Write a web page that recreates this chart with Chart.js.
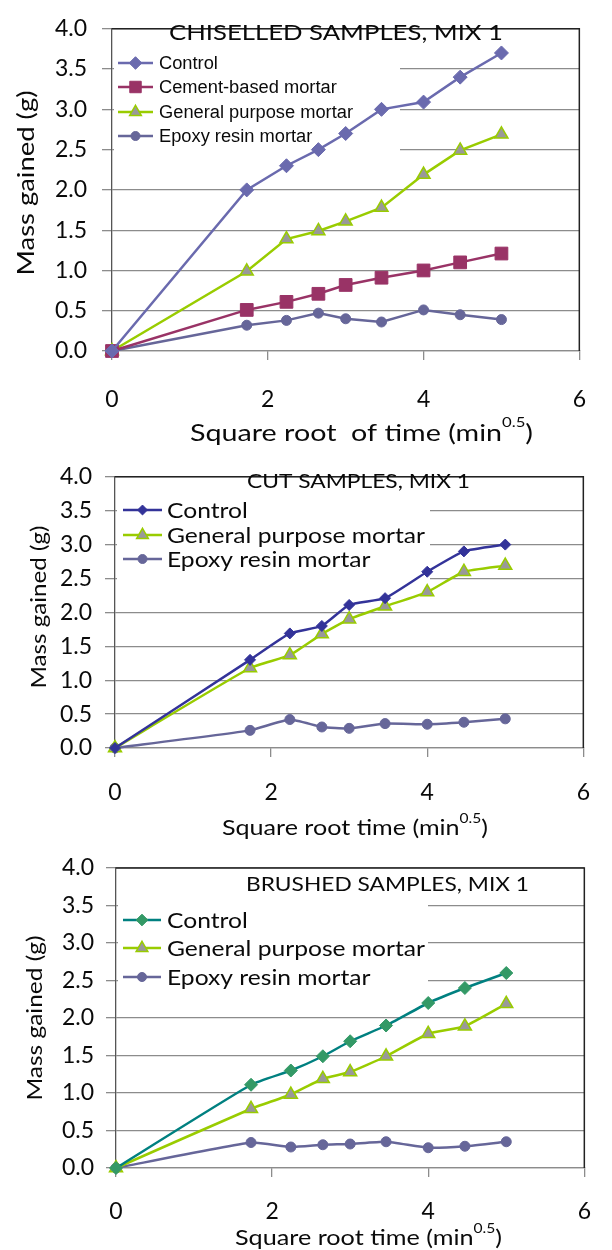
<!DOCTYPE html>
<html>
<head>
<meta charset="utf-8">
<script src="https://cdn.jsdelivr.net/npm/chart.js@4.4.0/dist/chart.umd.min.js"></script>
<style>
html, body { margin: 0; padding: 0; background: #fff; }
.panel { position: absolute; left: 0; width: 612px; }
canvas { display: block; }
</style>
</head>
<body>
<div class="panel" style="top:0px"><canvas id="chiselled" width="612" height="450"></canvas></div>
<div class="panel" style="top:450px"><canvas id="cut" width="612" height="390"></canvas></div>
<div class="panel" style="top:840px"><canvas id="brushed" width="612" height="410"></canvas></div>
<script>
// square root of time (min^0.5), same readings for every panel
const rootTime = [0, 1.73, 2.24, 2.65, 3.0, 3.46, 4.0, 4.47, 5.0];

// chiselled samples, mix 1
const chiselledControl = [0, 2.0, 2.3, 2.5, 2.7, 3.0, 3.09, 3.4, 3.7];
const chiselledCement = [0, 0.51, 0.61, 0.71, 0.82, 0.91, 1.0, 1.1, 1.21];
const chiselledGeneral = [0, 0.99, 1.39, 1.49, 1.61, 1.78, 2.19, 2.49, 2.69];
const chiselledEpoxy = [0, 0.32, 0.38, 0.47, 0.40, 0.36, 0.51, 0.45, 0.39];

// cut samples, mix 1
const cutControl = [0, 1.30, 1.69, 1.80, 2.11, 2.21, 2.60, 2.90, 3.0];
const cutGeneral = [0, 1.18, 1.37, 1.68, 1.90, 2.09, 2.30, 2.60, 2.69];
const cutEpoxy = [0, 0.26, 0.42, 0.31, 0.29, 0.36, 0.35, 0.38, 0.43];

// brushed samples, mix 1
const brushedControl = [0, 1.11, 1.30, 1.49, 1.69, 1.90, 2.20, 2.40, 2.60];
const brushedGeneral = [0, 0.79, 0.98, 1.19, 1.28, 1.49, 1.79, 1.89, 2.19];
const brushedEpoxy = [0, 0.34, 0.28, 0.31, 0.32, 0.35, 0.27, 0.29, 0.35];

const seriesNames = ['Control', 'Cement-based mortar', 'General purpose mortar', 'Epoxy resin mortar'];
const xTickStep = 2;
const yTickStep = 0.5;

// marker / line looks
const stControl1 = { line: '#6a6aae', fill: '#6a6aae', edge: '#6a6aae', marker: 'rectRot', size: 7, edgeWidth: 1 };
const stCement = { line: '#993366', fill: '#993366', edge: '#993366', marker: 'rect', size: 9, edgeWidth: 1 };
const stGeneral = { line: '#99cc00', fill: '#999999', edge: '#99cc00', marker: 'triangle', size: 7.5, edgeWidth: 1.5 };
const stEpoxy = { line: '#666699', fill: '#666699', edge: '#666699', marker: 'circle', size: 5, edgeWidth: 1 };
const stControl2 = { line: '#333399', fill: '#333399', edge: '#333399', marker: 'rectRot', size: 5.5, edgeWidth: 1 };
const stControl3 = { line: '#008080', fill: '#339966', edge: '#339966', marker: 'rectRot', size: 6.5, edgeWidth: 1 };

const GRID = '#8c8c8c';
const INK = '#0a0a0a';

function fitText(ctx, text, x, y, font, width, align) {
    ctx.save();
    ctx.font = font;
    let w = ctx.measureText(text).width;
    let sx = width ? width / w : 1;
    ctx.translate(x, y);
    ctx.scale(sx, 1);
    ctx.textAlign = align || 'left';
    ctx.textBaseline = 'middle';
    ctx.fillStyle = INK;
    ctx.fillText(text, 0, 0);
    ctx.restore();
}

// "Square root time (min^0.5)" style title, drawn left to right then fitted to width
function supTitle(ctx, parts, size, x1, x2, y) {
    ctx.save();
    let main = size + 'px Lato';
    let small = Math.round(size * 0.6) + 'px Lato';
    ctx.font = main;
    let w0 = ctx.measureText(parts[0]).width;
    let w2 = ctx.measureText(parts[2]).width;
    ctx.font = small;
    let w1 = ctx.measureText(parts[1]).width;
    let sx = (x2 - x1) / (w0 + w1 + w2);
    ctx.translate(x1, y);
    ctx.scale(sx, 1);
    ctx.fillStyle = INK;
    ctx.textBaseline = 'middle';
    ctx.textAlign = 'left';
    ctx.font = main;
    ctx.fillText(parts[0], 0, 0);
    ctx.font = small;
    ctx.fillText(parts[1], w0, -size * 0.42);
    ctx.font = main;
    ctx.fillText(parts[2], w0 + w1, 0);
    ctx.restore();
}

function drawMarker(ctx, st, x, y, scale) {
    ctx.fillStyle = st.fill;
    ctx.strokeStyle = st.edge;
    ctx.lineWidth = st.edgeWidth;
    let opts = { pointStyle: st.marker, radius: st.size * scale, borderWidth: st.edgeWidth, rotation: 0 };
    if (Chart.helpers && Chart.helpers.drawPoint) {
        Chart.helpers.drawPoint(ctx, opts, x, y);
    } else {
        ctx.beginPath();
        ctx.arc(x, y, opts.radius, 0, Math.PI * 2);
        ctx.fill();
    }
}

const panelDecor = {
    id: 'panelDecor',
    beforeDatasetsDraw(chart, args, o) {
        const ctx = chart.ctx;
        ctx.save();
        ctx.translate(0, -o.offset);
        ctx.fillStyle = '#fff';
        let b = o.legendBox;
        ctx.fillRect(b[0], b[1], b[2] - b[0], b[3] - b[1]);
        ctx.restore();
    },
    afterDraw(chart, args, o) {
        const ctx = chart.ctx;
        const a = chart.chartArea;
        ctx.save();
        // dark frame on top and right
        ctx.strokeStyle = '#222';
        ctx.lineWidth = 1.5;
        ctx.beginPath();
        ctx.moveTo(a.left, a.top);
        ctx.lineTo(a.right, a.top);
        ctx.lineTo(a.right, a.bottom);
        ctx.stroke();

        ctx.translate(0, -o.offset);
        // title inside the plot
        fitText(ctx, o.title, o.titleX[0], o.titleY, o.titleSize + 'px Lato', o.titleX[1] - o.titleX[0], 'left');

        // legend
        ctx.font = o.legendFont;
        let sx = o.legendRef[1] / ctx.measureText(o.legendRef[0]).width;
        o.legendItems.forEach((it, i) => {
            let y = o.legendY[i];
            ctx.strokeStyle = it.st.line;
            ctx.lineWidth = 2.5;
            ctx.beginPath();
            ctx.moveTo(o.legendLine[0], y);
            ctx.lineTo(o.legendLine[1], y);
            ctx.stroke();
            drawMarker(ctx, it.st, (o.legendLine[0] + o.legendLine[1]) / 2, y, o.legendMarker);
            ctx.save();
            ctx.font = o.legendFont;
            ctx.translate(o.legendText, y);
            ctx.scale(sx, 1);
            ctx.fillStyle = INK;
            ctx.textBaseline = 'middle';
            ctx.fillText(it.label, 0, 1);
            ctx.restore();
        });

        // y axis title
        ctx.save();
        ctx.translate(o.yTitle[0], o.yTitle[1]);
        ctx.rotate(-Math.PI / 2);
        fitText(ctx, 'Mass gained (g)', 0, 0, o.yTitle[3] + 'px Lato', o.yTitle[2], 'center');
        ctx.restore();

        // x axis title
        supTitle(ctx, o.xTitleParts, o.xTitle[3], o.xTitle[0], o.xTitle[1], o.xTitle[2]);
        ctx.restore();
    }
};

function buildSets(list, tension) {
    return list.map(s => ({
        label: s.label,
        data: rootTime.map((x, i) => ({ x: x, y: s.values[i] })),
        borderColor: s.st.line,
        backgroundColor: s.st.fill,
        borderWidth: 2.5,
        pointStyle: s.st.marker,
        pointRadius: s.st.size,
        pointBackgroundColor: s.st.fill,
        pointBorderColor: s.st.edge,
        pointBorderWidth: s.st.edgeWidth,
        tension: tension,
        clip: false
    }));
}

function makeChart(id, list, L) {
    let canvasH = document.getElementById(id).height;
    return new Chart(document.getElementById(id), {
        type: 'line',
        data: { datasets: buildSets(list, L.tension) },
        options: {
            responsive: false,
            animation: false,
            devicePixelRatio: 1,
            layout: { padding: { top: L.top - L.offset, right: 612 - L.right, left: 0, bottom: 0 } },
            plugins: {
                legend: { display: false },
                tooltip: { enabled: false },
                panelDecor: L
            },
            scales: {
                x: {
                    type: 'linear', min: 0, max: 6,
                    ticks: { stepSize: xTickStep, padding: L.xTickPad, color: INK, font: { family: 'Lato', size: 23 } },
                    grid: { drawOnChartArea: false, tickLength: 9, color: GRID, lineWidth: 1.3 },
                    border: { color: GRID, width: 1.3 },
                    afterFit: s => { s.height = L.offset + canvasH - L.bottom; }
                },
                y: {
                    min: 0, max: 4,
                    ticks: { stepSize: yTickStep, padding: L.yTickPad, color: INK, font: { family: 'Lato', size: 23 },
                        callback: v => v.toFixed(1) },
                    grid: { tickLength: 10, color: GRID, lineWidth: 1.3 },
                    border: { color: '#555', width: 1.3 },
                    afterFit: s => { s.width = L.left; }
                }
            }
        },
        plugins: [panelDecor]
    });
}

makeChart('chiselled', [
    { label: seriesNames[0], values: chiselledControl, st: stControl1 },
    { label: seriesNames[1], values: chiselledCement, st: stCement },
    { label: seriesNames[2], values: chiselledGeneral, st: stGeneral },
    { label: seriesNames[3], values: chiselledEpoxy, st: stEpoxy }
], {
    offset: 0, left: 112, right: 595, top: 16, bottom: 351, tension: 0,
    xTickPad: 26, yTickPad: 15,
    title: 'CHISELLED SAMPLES, MIX 1', titleX: [169, 503], titleY: 33, titleSize: 22,
    legendBox: [114, 44, 400, 152], legendY: [63, 87, 112, 136], legendLine: [118, 153], legendText: 159,
    legendFont: '18px "Liberation Sans"', legendRef: ['General purpose mortar', 194], legendMarker: 0.9,
    legendItems: [
        { label: seriesNames[0], st: stControl1 }, { label: seriesNames[1], st: stCement },
        { label: seriesNames[2], st: stGeneral }, { label: seriesNames[3], st: stEpoxy }
    ],
    yTitle: [27, 183, 185, 23],
    xTitle: [190, 533, 433, 24], xTitleParts: ['Square root  of time (min', '0.5', ')']
});

makeChart('cut', [
    { label: seriesNames[0], values: cutControl, st: stControl2 },
    { label: seriesNames[2], values: cutGeneral, st: stGeneral },
    { label: seriesNames[3], values: cutEpoxy, st: stEpoxy }
], {
    offset: 450, left: 115, right: 601, top: 468, bottom: 748, tension: 0.15,
    xTickPad: 22, yTickPad: 13,
    title: 'CUT SAMPLES, MIX 1', titleX: [247, 470], titleY: 482, titleSize: 19,
    legendBox: [117, 492, 430, 586], legendY: [510, 535, 559], legendLine: [123, 162], legendText: 167,
    legendFont: '22px Lato', legendRef: ['General purpose mortar', 258], legendMarker: 0.9,
    legendItems: [
        { label: seriesNames[0], st: stControl2 }, { label: seriesNames[2], st: stGeneral },
        { label: seriesNames[3], st: stEpoxy }
    ],
    yTitle: [39, 607, 163, 21],
    xTitle: [222, 488, 828, 21], xTitleParts: ['Square root time (min', '0.5', ')']
});

makeChart('brushed', [
    { label: seriesNames[0], values: brushedControl, st: stControl3 },
    { label: seriesNames[2], values: brushedGeneral, st: stGeneral },
    { label: seriesNames[3], values: brushedEpoxy, st: stEpoxy }
], {
    offset: 840, left: 116, right: 597, top: 868, bottom: 1168, tension: 0.15,
    xTickPad: 21, yTickPad: 12,
    title: 'BRUSHED SAMPLES, MIX 1', titleX: [246, 529], titleY: 885, titleSize: 19,
    legendBox: [118, 898, 428, 996], legendY: [920, 948, 977], legendLine: [123, 161], legendText: 167,
    legendFont: '22px Lato', legendRef: ['General purpose mortar', 258], legendMarker: 0.9,
    legendItems: [
        { label: seriesNames[0], st: stControl3 }, { label: seriesNames[2], st: stGeneral },
        { label: seriesNames[3], st: stEpoxy }
    ],
    yTitle: [35, 1018, 165, 21],
    xTitle: [235, 502, 1238, 21], xTitleParts: ['Square root time (min', '0.5', ')']
});
</script>
</body>
</html>
